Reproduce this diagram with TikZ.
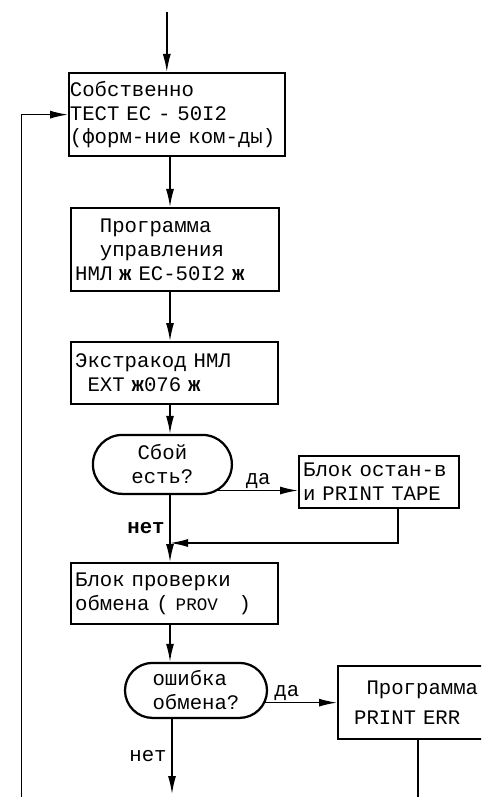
\documentclass[tikz,border=0pt]{standalone}
\usepackage{fontspec}
\newfontfamily\lpfont{Liberation Mono}
\usetikzlibrary{arrows.meta,shapes.misc,calc}

\tikzset{
  blk/.style={draw,line width=1.6pt,anchor=north west,align=left,inner xsep=.1cm,inner ysep=0pt,
    font=\lpfont\fontsize{14.7}{17}\selectfont},
  oval/.style={draw,line width=1.6pt,rounded rectangle,inner sep=0pt,
    font=\lpfont\fontsize{14.7}{17}\selectfont},
  arr/.style={line width=1pt,-{Latex[length=4.5mm,width=2mm]}},
  lbl/.style={font=\lpfont\fontsize{14.7}{17}\selectfont}
}

\begin{document}
\begin{tikzpicture}
  \useasboundingbox (0,0) rectangle (12.025,-19.925);
  \clip (0,0) rectangle (12.025,-19.925);
  \coordinate (spine) at (4.25,0);
  \coordinate (in) at (4.17,-.3);

  \node[blk,inner xsep=.02cm,text width=5.36cm,minimum height=2.075cm] (test) at (1.7,-1.8)
    {Собственно\\ТЕСТ ЕС - 50I2\\(форм-ние ком-ды)};
  \node[blk,text width=5cm,minimum height=2.075cm] (ctl) at (1.75,-5.175)
    {\phantom{00}Программа\\\phantom{00}управления\\НМЛ \textbf{ж} ЕС-50I2 \textbf{ж}};
  \node[blk,text width=4.975cm,minimum height=1.55cm] (ext) at (1.75,-8.525)
    {Экстракод НМЛ\\\phantom{0}EXT \textbf{ж}076 \textbf{ж}};
  \node[oval,align=center,minimum width=3.475cm,minimum height=1.475cm] (fail) at (4.06,-11.61)
    {Сбой\\есть?};
  \node[blk,text width=3.8cm,minimum height=1.3cm] (stop) at (7.45,-11.375)
    {Блок остан-в\\и PRINT TAPE};
  \node[blk,text width=4.975cm,minimum height=1.525cm] (chk) at (1.75,-14.05)
    {Блок проверки\\обмена ( {\fontsize{12.5}{13}\selectfont PROV}\ \ \ )};
  \node[oval,align=left,minimum width=3.55cm,minimum height=1.375cm] (err) at (4.9,-17.26)
    {ошибка\\обмена?};
  \node[blk,inner xsep=.4cm,text width=3.7cm,minimum height=1.825cm] (prn) at (8.425,-16.625)
    {\phantom{0}Программа\\[4pt]PRINT ERR};

  \draw[arr] (in) -- (in |- test.north);
  \draw[arr] (test.south -| spine) -- (ctl.north -| spine);
  \draw[arr] (ctl.south -| spine) -- (ext.north -| spine);
  \draw[arr] (ext.south -| spine) -- (fail.north -| spine);
  \draw[arr] (fail.south -| spine) -- node[lbl,left]{\bfseries нет} (chk.north -| spine);
  \draw[arr] (fail.-25) -- node[lbl,above,inner sep=1pt]{да} (fail.-25 -| stop.west);
  \coordinate (back) at (9.95,-13.575);
  \draw[arr] (stop.south -| back) |- (back -| spine);
  \draw[arr] (chk.south -| spine) -- (err.north -| spine);
  \coordinate (out) at (4.3,-19.85);
  \draw[arr] (err.south -| out) -- node[lbl,left]{нет} (out);
  \draw[arr] (err.-10) -- node[lbl,above,pos=.3,inner sep=1pt]{да} (err.-10 -| prn.west);
  \coordinate (exit) at (10.45,-19.925);
  \draw[line width=1pt] (prn.south -| exit) -- (exit);
  \coordinate (loop) at (.54,-19.925);
  \draw[arr] (loop) |- (test.west);
\end{tikzpicture}
\end{document}
